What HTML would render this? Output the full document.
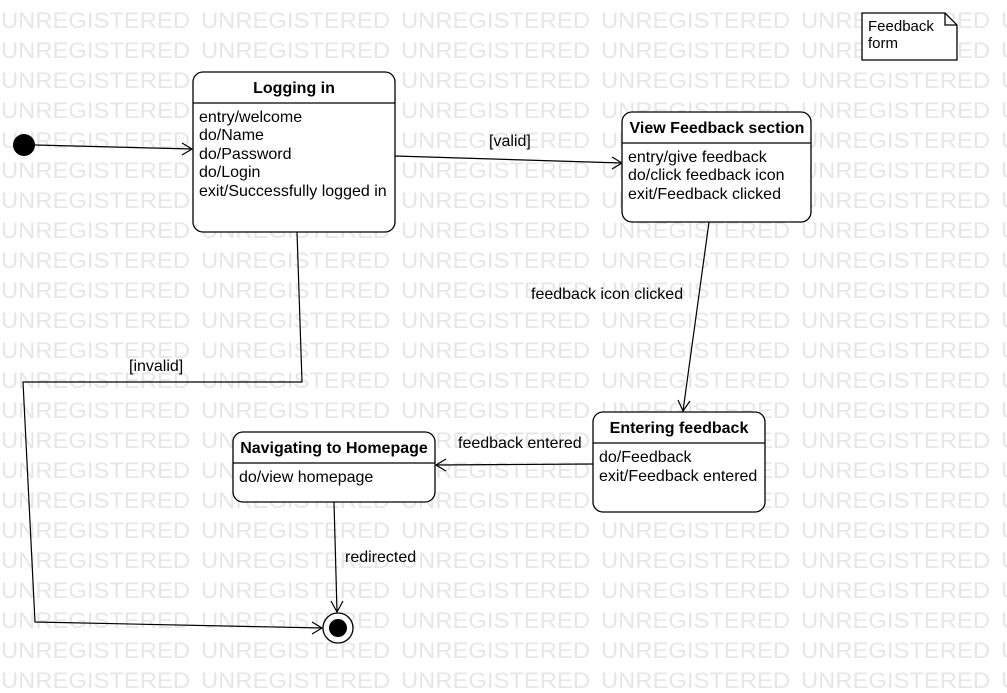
<!DOCTYPE html>
<html><head><meta charset="utf-8"><style>
html,body{margin:0;padding:0;background:#fff}
svg{display:block}
text{font-family:"Liberation Sans",Arial,sans-serif}
</style></head><body>
<svg width="1007" height="693" viewBox="0 0 1007 693" xmlns="http://www.w3.org/2000/svg">
<defs>
<pattern id="wm" x="0" y="0" width="200" height="30" patternUnits="userSpaceOnUse">
<text x="1" y="28" font-size="22" fill="#e6e6e6" textLength="189" lengthAdjust="spacingAndGlyphs">UNREGISTERED</text>
</pattern>
</defs>
<rect x="0" y="0" width="1007" height="693" fill="url(#wm)"/>

<g stroke="#000" stroke-width="1.2" fill="none">
<polyline points="35,145 192,149"/>
<polyline points="182,143 192,149 182,155"/>
<polyline points="395,156 622,163"/>
<polyline points="612,157 622,163 612,169"/>
<polyline points="709,222 683,411"/>
<polyline points="678,400 683,411 690,401"/>
<polyline points="593,464 436,465"/>
<polyline points="446,459 436,465 446,471"/>
<polyline points="334,502 337,612"/>
<polyline points="331,601 337,612 343,601"/>
<polyline points="297,232 302,382 23,382 35,622 322,628"/>
<polyline points="312,622 322,628 312,634"/>
</g>

<g stroke="#000" stroke-width="1.3" fill="#fff">
<rect x="193" y="72" width="202" height="160" rx="10"/>
<line x1="193" y1="103" x2="395" y2="103"/>
<rect x="622" y="112" width="189" height="110" rx="10"/>
<line x1="622" y1="143" x2="811" y2="143"/>
<rect x="593" y="412" width="172" height="100" rx="10"/>
<line x1="593" y1="443" x2="765" y2="443"/>
<rect x="233" y="432" width="202" height="70" rx="10"/>
<line x1="233" y1="463" x2="435" y2="463"/>
<path d="M862,13 H945 L957,25 V60 H862 Z"/>
<path d="M945,13 V25 H957" fill="none"/>
<circle cx="338" cy="628" r="15"/>
</g>
<circle cx="24" cy="145" r="11" fill="#000"/>
<circle cx="338" cy="628" r="9" fill="#000"/>

<g font-size="16" fill="#000">
<text x="294" y="93" text-anchor="middle" font-weight="bold">Logging in</text>
<text x="199" y="122">entry/welcome</text>
<text x="199" y="140">do/Name</text>
<text x="199" y="159">do/Password</text>
<text x="199" y="177">do/Login</text>
<text x="199" y="196">exit/Successfully logged in</text>

<text x="717" y="133" text-anchor="middle" font-weight="bold">View Feedback section</text>
<text x="628" y="162">entry/give feedback</text>
<text x="628" y="180">do/click feedback icon</text>
<text x="628" y="199">exit/Feedback clicked</text>

<text x="679" y="433" text-anchor="middle" font-weight="bold">Entering feedback</text>
<text x="599" y="462">do/Feedback</text>
<text x="599" y="481">exit/Feedback entered</text>

<text x="334" y="453" text-anchor="middle" font-weight="bold">Navigating to Homepage</text>
<text x="239" y="482">do/view homepage</text>

<text x="868" y="31" font-size="15">Feedback</text>
<text x="868" y="48" font-size="15">form</text>

<text x="489" y="146">[valid]</text>
<text x="531" y="299">feedback icon clicked</text>
<text x="458" y="448">feedback entered</text>
<text x="345" y="562">redirected</text>
<text x="129" y="371">[invalid]</text>
</g>
</svg>
</body></html>
